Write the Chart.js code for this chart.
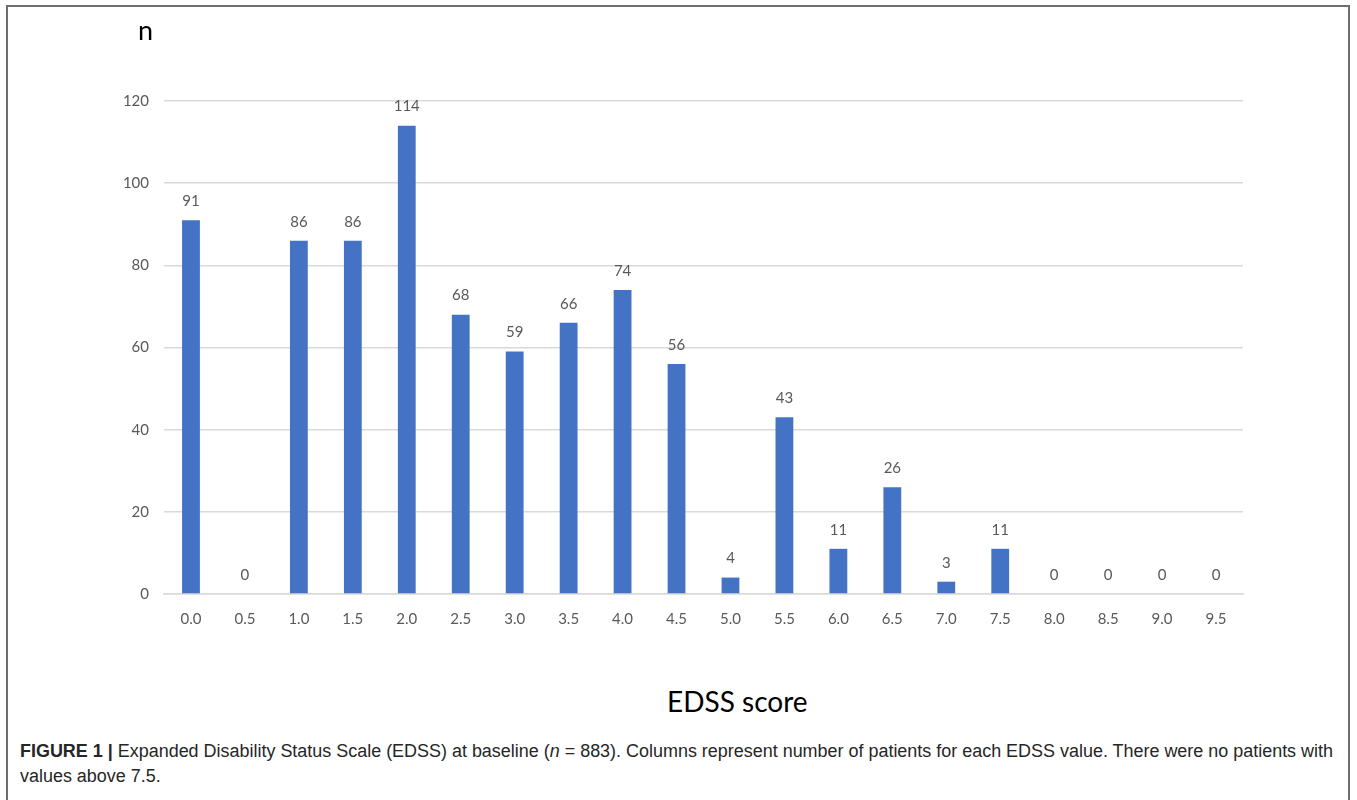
<!DOCTYPE html>
<html>
<head>
<meta charset="utf-8">
<script src="https://cdn.jsdelivr.net/npm/chart.js@4.4.1/dist/chart.umd.min.js"></script>
<style>
  html, body { margin: 0; padding: 0; background: #fff; }
  #page { position: relative; width: 1357px; height: 800px; overflow: hidden; }
  #frame { position: absolute; left: 6px; top: 5px; width: 1344px; height: 840px;
           border: 2px solid #6e6e6e; box-sizing: border-box; }
  #chartBox { position: absolute; left: 0; top: 0; width: 1357px; height: 660px; }
  #yTitle { position: absolute; left: 138px; top: 13px; font: 27px Lato, "Open Sans", sans-serif; color: #000; }
  #xTitle { position: absolute; left: 667px; top: 684px; font: 28px Lato, "Open Sans", sans-serif; color: #000; white-space: nowrap; }
  #caption { position: absolute; left: 20px; top: 739px;
             font: 18px "Liberation Sans", Arial, sans-serif; color: #262626; line-height: 25px; }
  #caption .line { display: block; white-space: nowrap; transform-origin: 0 50%; }
  #caption b { font-weight: bold; }
</style>
</head>
<body>
<div id="page">
  <div id="frame"></div>
  <div id="chartBox"><canvas id="c" width="1357" height="660"></canvas></div>
  <div id="yTitle">n</div>
  <div id="xTitle">EDSS score</div>
  <div id="caption">
    <span class="line" id="capLine1"><b>FIGURE 1 |</b> Expanded Disability Status Scale (EDSS) at baseline (<i>n</i> = 883). Columns represent number of patients for each EDSS value. There were no patients with</span>
    <span class="line" id="capLine2">values above 7.5.</span>
  </div>
</div>
<script>
// EDSS categories and patient counts
const edssScores = ["0.0","0.5","1.0","1.5","2.0","2.5","3.0","3.5","4.0","4.5",
                    "5.0","5.5","6.0","6.5","7.0","7.5","8.0","8.5","9.0","9.5"];
const patientCounts = [91, 0, 86, 86, 114, 68, 59, 66, 74, 56,
                       4, 43, 11, 26, 3, 11, 0, 0, 0, 0];
const yTicks = [0, 20, 40, 60, 80, 100, 120];

const labelFont = '15px Lato, "Open Sans", sans-serif';
const textGray = '#595959';

// Condense the caption so its first line spans the full column width
(function fitCaption() {
  const l1 = document.getElementById('capLine1');
  const l2 = document.getElementById('capLine2');
  const range = document.createRange();
  range.selectNodeContents(l1);
  const w = range.getBoundingClientRect().width;
  const k = 1313 / w;
  l1.style.transform = 'scaleX(' + k + ')';
  l2.style.transform = 'scaleX(' + k + ')';
})();

// Value labels drawn above each column
const valueLabels = {
  id: 'valueLabels',
  afterDatasetsDraw(chart) {
    const ctx = chart.ctx;
    const meta = chart.getDatasetMeta(0);
    ctx.save();
    ctx.font = labelFont;
    ctx.fillStyle = textGray;
    ctx.textAlign = 'center';
    ctx.textBaseline = 'middle';
    meta.data.forEach((bar, i) => {
      ctx.fillText(String(patientCounts[i]), bar.x, bar.y - 19);
    });
    ctx.restore();
  }
};

new Chart(document.getElementById('c'), {
  type: 'bar',
  data: {
    labels: edssScores,
    datasets: [{
      data: patientCounts,
      backgroundColor: '#4472C4',
      borderWidth: 0,
      barPercentage: 0.66,
      categoryPercentage: 0.5
    }]
  },
  options: {
    responsive: false,
    animation: false,
    devicePixelRatio: 1,
    layout: { padding: { left: 0, right: 114, top: 101, bottom: 0 } },
    plugins: { legend: { display: false }, tooltip: { enabled: false } },
    scales: {
      x: {
        grid: { display: false, drawTicks: false },
        border: { display: true, color: '#d9d9d9', width: 1.5 },
        ticks: { color: textGray, font: { family: 'Lato, "Open Sans", sans-serif', size: 15 }, padding: 16, maxRotation: 0 },
        afterFit(scale) { scale.height = 66; }
      },
      y: {
        min: 0, max: 120,
        afterBuildTicks(scale) { scale.ticks = yTicks.map(v => ({ value: v })); },
        grid: { color: '#d9d9d9', lineWidth: 1.5, drawTicks: false },
        border: { display: false },
        ticks: { color: textGray, font: { family: 'Lato, "Open Sans", sans-serif', size: 15 }, padding: 15 },
        afterFit(scale) { scale.width = 164; }
      }
    }
  },
  plugins: [valueLabels]
});
</script>
</body>
</html>
